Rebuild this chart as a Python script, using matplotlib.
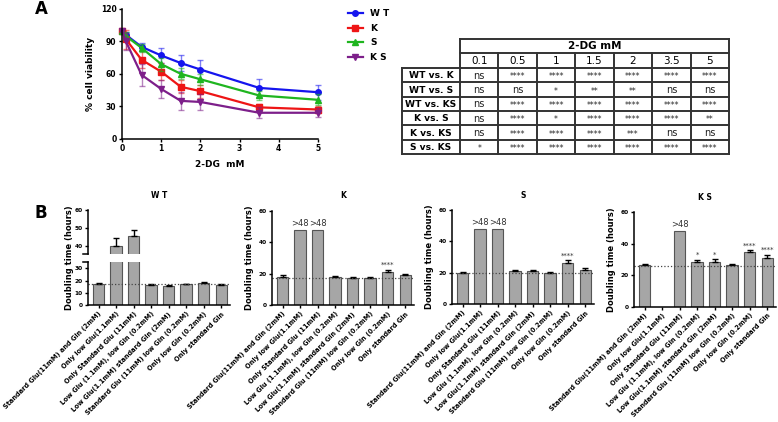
import numpy as np
import matplotlib
matplotlib.use("Agg")
import matplotlib.pyplot as plt

W, H = 778, 422

# ---------------- Panel A data ----------------
dose = [0, 0.1, 0.5, 1, 1.5, 2, 3.5, 5]
wt_via = [100, 96, 85, 77, 70, 64, 47, 43]
wt_err = [1, 3, 4, 7, 7, 9, 8, 7]
k_via = [100, 92, 73, 62, 48, 44, 29, 27]
k_err = [1, 9, 8, 8, 6, 6, 3, 3]
s_via = [100, 95, 84, 69, 60, 55, 40, 36]
s_err = [1, 4, 4, 6, 5, 5, 4, 5]
ks_via = [100, 90, 59, 46, 35, 34, 24, 24]
ks_err = [1, 8, 10, 8, 8, 7, 5, 4]
series_names = ["W T", "K", "S", "K S"]

# ---------------- Table data ----------------
tab_cols = ["0.1", "0.5", "1", "1.5", "2", "3.5", "5"]
tab_rows = ["WT vs. K", "WT vs. S", "WT vs. KS", "K vs. S", "K vs. KS", "S vs. KS"]
tab_vals = [
    ["ns", "****", "****", "****", "****", "****", "****"],
    ["ns", "ns", "*", "**", "**", "ns", "ns"],
    ["ns", "****", "****", "****", "****", "****", "****"],
    ["ns", "****", "*", "****", "****", "****", "**"],
    ["ns", "****", "****", "****", "***", "ns", "ns"],
    ["*", "****", "****", "****", "****", "****", "****"],
]

# ---------------- Panel B data ----------------
conditions = [
    "Standard Glu(11mM) and Gln (2mM)",
    "Only low Glu(1.1mM)",
    "Only Standard Glu (11mM)",
    "Low Glu (1.1mM), low Gln (0.2mM)",
    "Low Glu(1.1mM) standard Gln (2mM)",
    "Standard Glu (11mM) low Gln (0.2mM)",
    "Only low Gln (0.2mM)",
    "Only standard Gln",
]
wt_dt = [17.5, 40, 45.5, 16.5, 16, 17, 18, 16.5]
wt_dt_err = [1, 4.5, 3.5, 0.7, 0.5, 0.7, 0.7, 0.7]
k_dt = [18, 48, 48, 18, 17.5, 17.5, 21.5, 19]
k_dt_err = [1, 0, 0, 0.5, 0.5, 0.5, 1, 0.7]
s_dt = [20, 48, 48, 21, 21, 20, 26.5, 22]
s_dt_err = [0.8, 0, 0, 0.8, 0.8, 0.6, 1.5, 1]
ks_dt = [26.5, np.nan, 48, 28.5, 28.5, 26.5, 34.5, 31]
ks_dt_err = [0.5, 0, 0, 1.2, 1.5, 0.3, 1.2, 1.8]
wt_ref, k_ref, s_ref, ks_ref = 17, 17.5, 20, 26
wt_ann = ["", "", "", "", "", "", "", ""]
k_ann = ["", ">48", ">48", "", "", "", "****", ""]
s_ann = ["", ">48", ">48", "", "", "", "****", ""]
ks_ann = ["", "", ">48", "*", "*", "", "****", "****"]

fig = plt.figure(figsize=(W / 100, H / 100), dpi=100)


def box(l, t, r, b):
    return [l / W, 1 - b / H, (r - l) / W, (b - t) / H]


def style_axes(ax, fs=5):
    for sp in ["top", "right"]:
        ax.spines[sp].set_visible(False)
    for sp in ["left", "bottom"]:
        ax.spines[sp].set_linewidth(1.1)
    ax.tick_params(direction="out", length=2.5, width=1, labelsize=fs, pad=1.5)
    for lab in ax.get_yticklabels() + ax.get_xticklabels():
        lab.set_fontweight("bold")


# ---------------- Panel A ----------------
axA = fig.add_axes(box(122, 9, 318, 138.7))
colors = ["#1515ee", "#ee1515", "#1fb51f", "#7d1f8a"]
markers = ["o", "s", "^", "v"]
handles = []
for vals, errs, c, m, nm in zip([wt_via, k_via, s_via, ks_via],
                                [wt_err, k_err, s_err, ks_err],
                                colors, markers, series_names):
    axA.errorbar(dose, vals, yerr=errs, fmt="none", ecolor=c, alpha=0.55,
                 elinewidth=1, capsize=2.5, clip_on=False)
    h, = axA.plot(dose, vals, color=c, marker=m, markersize=4, lw=1.6,
                  clip_on=False, label=nm)
    handles.append(h)
axA.set_xlim(0, 5)
axA.set_ylim(0, 120)
axA.set_xticks([0, 1, 2, 3, 4, 5])
axA.set_yticks([0, 30, 60, 90, 120])
style_axes(axA, fs=5.5)
axA.set_xlabel("2-DG  mM", fontsize=6.5, fontweight="bold", labelpad=5)
axA.set_ylabel("% cell viability", fontsize=6.5, fontweight="bold", labelpad=4)
leg = fig.legend(handles=handles, loc="upper left",
                 bbox_to_anchor=(341 / W, 1 - 2 / H), frameon=False,
                 prop={"size": 6.5, "weight": "bold"}, handlelength=1.6,
                 labelspacing=0.62, handletextpad=0.8, borderpad=0.3)

fig.text(35 / W, 1 - 9 / H, "A", fontsize=12, fontweight="bold", va="center")
fig.text(35 / W, 1 - 213 / H, "B", fontsize=12, fontweight="bold", va="center")

# ---------------- Table ----------------
axT = fig.add_axes(box(402, 39, 729, 154))
axT.axis("off")
c0 = 58 / 38.4
ncol = len(tab_cols)
nrow = len(tab_rows) + 2
xend = c0 + ncol
axT.set_xlim(0, xend)
axT.set_ylim(nrow, 0)
lw = 1.4
lc = "#333333"
for y in [0, 1]:
    axT.plot([c0, xend], [y, y], color=lc, lw=lw, clip_on=False, solid_capstyle="projecting")
for y in range(2, nrow + 1):
    axT.plot([0, xend], [y, y], color=lc, lw=lw, clip_on=False, solid_capstyle="projecting")
axT.plot([0, 0], [2, nrow], color=lc, lw=lw, clip_on=False, solid_capstyle="projecting")
axT.plot([c0, c0], [0, nrow], color=lc, lw=lw, clip_on=False, solid_capstyle="projecting")
axT.plot([xend, xend], [0, nrow], color=lc, lw=lw, clip_on=False, solid_capstyle="projecting")
for j in range(1, ncol):
    axT.plot([c0 + j, c0 + j], [1, nrow], color=lc, lw=lw, clip_on=False)
axT.text(c0 + ncol / 2, 0.5, "2-DG mM", ha="center", va="center",
         fontsize=7.5, fontweight="bold")
for j, col in enumerate(tab_cols):
    axT.text(c0 + j + 0.5, 1.55, col, ha="center", va="center", fontsize=7.5)
for i, rname in enumerate(tab_rows):
    axT.text(c0 / 2, i + 2.55, rname, ha="center", va="center",
             fontsize=6.6, fontweight="bold")
    for j, v in enumerate(tab_vals[i]):
        if v == "ns":
            axT.text(c0 + j + 0.5, i + 2.55, v, ha="center", va="center",
                     fontsize=7, color="#222222")
        else:
            axT.text(c0 + j + 0.5, i + 2.62, v, ha="center", va="center",
                     fontsize=5.5, color="#222222")

# ---------------- Panel B ----------------
xpos = np.arange(len(conditions))
bar_kw = dict(width=0.65, color="#a6a6a6", edgecolor="#555555", linewidth=0.8)


def draw_bars(ax, vals, errs, ref, ann):
    ax.bar(xpos, vals, **bar_kw)
    for x, v, e, a in zip(xpos, vals, errs, ann):
        if np.isnan(v):
            continue
        if e > 0:
            ax.errorbar([x], [v], yerr=[[0], [e]], fmt="none", ecolor="black",
                        elinewidth=1, capsize=2.2, capthick=1)
        if a:
            off = 1.2 if a.startswith("*") else 1.5
            ax.text(x, v + e + off, a, ha="center", va="bottom",
                    fontsize=6 if a.startswith(">") else 5, color="#333333")
    ax.axhline(ref, color="#444444", linestyle=":", lw=0.9)
    ax.set_xlim(-0.6, 7.5)


def xlabels(ax):
    ax.set_xticks(xpos)
    ax.set_xticklabels(conditions, rotation=45, ha="right",
                       rotation_mode="anchor", fontsize=4.8)
    for lab in ax.get_xticklabels():
        lab.set_fontweight("bold")


# WT broken axis
axWl = fig.add_axes(box(88, 261.7, 230, 305.3))
axWu = fig.add_axes(box(88, 210, 230, 254))
draw_bars(axWl, wt_dt, wt_dt_err, wt_ref, wt_ann)
axWl.set_ylim(0, 35.5)
axWl.set_yticks([0, 10, 20, 30])
style_axes(axWl, fs=4.2)
xlabels(axWl)
axWu.bar(xpos, wt_dt, **bar_kw)
for x, v, e in zip(xpos, wt_dt, wt_dt_err):
    axWu.errorbar([x], [v], yerr=[[0], [e]], fmt="none", ecolor="black",
                  elinewidth=1, capsize=2.2, capthick=1)
axWu.set_xlim(-0.6, 7.5)
axWu.set_ylim(35.5, 60)
axWu.set_yticks([40, 50, 60])
style_axes(axWu, fs=4.2)
axWu.spines["bottom"].set_visible(False)
axWu.set_xticks([])
for a_, yy in [(axWl, 1), (axWu, 0)]:
    a_.plot([-0.035, 0.0], [yy, yy], transform=a_.transAxes, color="black",
            lw=1.1, clip_on=False)
fig.text(69 / W, 1 - 258 / H, "Doubling time (hours)", rotation=90,
         ha="center", va="center", fontsize=6, fontweight="bold")
axWu.set_title("W T", fontsize=5.5, fontweight="bold", pad=9)

panels = [
    ("K", box(272, 211, 414, 305.3), k_dt, k_dt_err, k_ref, k_ann),
    ("S", box(452, 210, 594, 304.3), s_dt, s_dt_err, s_ref, s_ann),
    ("K S", box(634, 212, 776, 306.7), ks_dt, ks_dt_err, ks_ref, ks_ann),
]
for title, bx, vals, errs, ref, ann in panels:
    ax = fig.add_axes(bx)
    draw_bars(ax, vals, errs, ref, ann)
    ax.set_ylim(0, 60)
    ax.set_yticks([0, 20, 40, 60])
    style_axes(ax, fs=4.2)
    xlabels(ax)
    ax.set_ylabel("Doubling time (hours)", fontsize=6, fontweight="bold", labelpad=3)
    ax.set_title(title, fontsize=5.5, fontweight="bold", pad=9)

fig.savefig("out.png", dpi=100)
